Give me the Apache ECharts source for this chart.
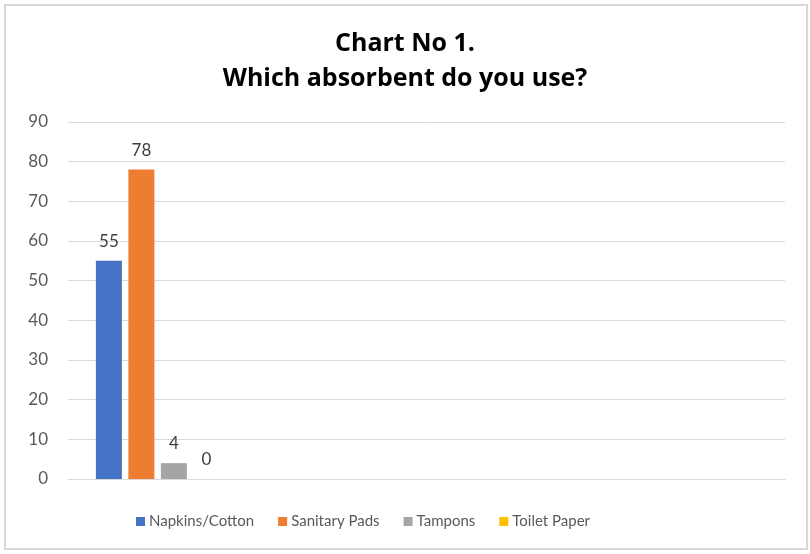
<!DOCTYPE html>
<html>
<head>
<meta charset="utf-8">
<script src="https://cdn.jsdelivr.net/npm/echarts@6/dist/echarts.min.js"></script>
<style>html,body{margin:0;padding:0;background:#fff}#c{width:810px;height:554px}</style>
</head>
<body>
<div id="c"></div>
<script>
const categories = ['', '', '', ''];
const seriesNames = ['Napkins/Cotton', 'Sanitary Pads', 'Tampons', 'Toilet Paper'];
const napkinsCotton = [55, null, null, null];
const sanitaryPads = [78, null, null, null];
const tampons = [4, null, null, null];
const toiletPaper = [0, null, null, null];
const yTicks = [0, 10, 20, 30, 40, 50, 60, 70, 80, 90];

const colors = ['#4472C4', '#ED7D31', '#A5A5A5', '#FFC000'];
const values = [napkinsCotton, sanitaryPads, tampons, toiletPaper];
const FONT = 'Lato, "Open Sans", sans-serif';

const chart = echarts.init(document.getElementById('c'), null, {renderer: 'canvas'});
chart.setOption({
  animation: false,
  backgroundColor: '#fff',
  textStyle: {fontFamily: FONT},
  graphic: [{
    type: 'rect', silent: true, z: -1,
    shape: {x: 5, y: 5, width: 802, height: 544},
    style: {fill: 'none', stroke: '#d9d9d9', lineWidth: 2}
  }],
  title: {
    text: 'Chart No 1.\nWhich absorbent do you use?',
    left: 'center', top: 21,
    textStyle: {fontFamily: '"Open Sans", sans-serif', fontWeight: 'bold', fontSize: 25, color: '#000', lineHeight: 35}
  },
  legend: {
    bottom: 20, left: 131,
    itemWidth: 9, itemHeight: 9, itemGap: 24,
    icon: 'rect',
    textStyle: {fontFamily: FONT, fontSize: 15, color: '#595959', padding: [0, 0, 0, -1]},
    data: seriesNames
  },
  grid: {left: 68, right: 25, top: 122, bottom: 75, containLabel: false},
  xAxis: {
    type: 'category', data: categories,
    axisLine: {lineStyle: {color: '#d9d9d9'}},
    axisTick: {show: false}, axisLabel: {show: false}
  },
  yAxis: {
    type: 'value', min: yTicks[0], max: yTicks[yTicks.length - 1], interval: 10,
    axisLine: {show: false}, axisTick: {show: false},
    axisLabel: {fontFamily: FONT, fontSize: 17, color: '#595959', margin: 20},
    splitLine: {lineStyle: {color: '#d9d9d9', width: 1}}
  },
  series: seriesNames.map((n, i) => ({
    name: n, type: 'bar', data: values[i],
    barWidth: 26, barGap: '25%',
    itemStyle: {color: colors[i]},
    label: {show: true, position: 'top', distance: 11, fontFamily: FONT, fontSize: 17, color: '#404040',
      formatter: p => (p.value === null || p.value === undefined) ? '' : p.value}
  }))
});
</script>
</body>
</html>
